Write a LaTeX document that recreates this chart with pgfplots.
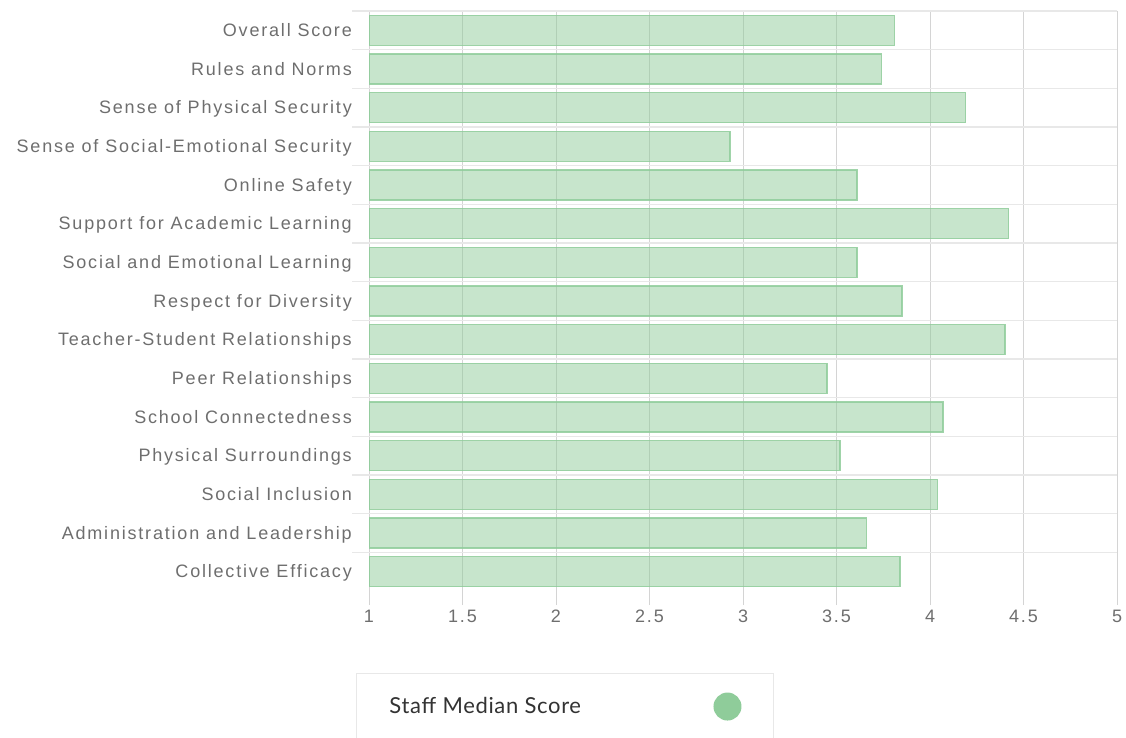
\documentclass[border=0pt]{standalone}
\usepackage{fontspec}
\setmainfont{Liberation Sans}[LetterSpace=10]
\newfontfamily\latofont{Lato}[LetterSpace=3]
\usepackage{pgfplots}
\pgfplotsset{compat=1.18}
\definecolor{lab}{RGB}{110,110,110}
\definecolor{gridv}{RGB}{212,212,212}
\definecolor{gridh}{RGB}{232,232,232}
\definecolor{dot}{RGB}{143,204,154}
\definecolor{legtext}{RGB}{51,51,51}
\pgfplotstableread{
y val
0 3.81
1 3.74
2 4.19
3 2.93
4 3.61
5 4.42
6 3.61
7 3.85
8 4.40
9 3.45
10 4.07
11 3.52
12 4.04
13 3.66
14 3.84
}\datatable
\begin{document}
\begin{tikzpicture}
\path[use as bounding box] (0pt,0pt) rectangle (1126pt,-737pt);
\begin{axis}[
  at={(369pt,-11pt)}, anchor=north west,
  scale only axis, width=748pt, height=580pt,
  xmin=1, xmax=5, ymin=-0.5, ymax=14.5, y dir=reverse,
  xbar, bar width=30pt,
  axis line style={draw=none},
  tick align=outside,
  xtick pos=left, ytick pos=left,
  xtick={1,1.5,2,2.5,3,3.5,4,4.5,5},
  xmajorgrids, major grid style={gridv, line width=1pt},
  major tick length=14pt,
  every major x tick/.style={gridv, line width=1pt},
  every major y tick/.style={draw=none},
  ytick={0,...,14},
  yticklabels={Overall Score,Rules and Norms,Sense of Physical Security,Sense of Social-Emotional Security,Online Safety,Support for Academic Learning,Social and Emotional Learning,Respect for Diversity,Teacher-Student Relationships,Peer Relationships,School Connectedness,Physical Surroundings,Social Inclusion,Administration and Leadership,Collective Efficacy},
  minor ytick={-0.5,0.5,1.5,2.5,3.5,4.5,5.5,6.5,7.5,8.5,9.5,10.5,11.5,12.5,13.5},
  yminorgrids, minor grid style={gridh, line width=1.5pt},
  minor tick length=17pt,
  every minor y tick/.style={gridh, line width=1.5pt},
  /pgf/number format/assume math mode=true,
  typeset ticklabels with strut,
  ticklabel style={font=\fontsize{18}{21}\selectfont, text=lab},
  yticklabel style={inner sep=0pt, anchor=east, xshift=-3pt, yshift=-2pt},
  xticklabel style={inner sep=0pt, yshift=-3pt},
  legend plot pos=right,
  legend style={at={(-0.0174,-0.1414)}, anchor=north west, draw=gridh, line width=1pt,
    inner sep=0pt, font=\latofont\fontsize{22}{26}\selectfont, text=legtext,
    nodes={inner sep=0pt}, column sep=0pt},
  legend image code/.code={
    \path[draw=none, fill=none] (0pt,-26pt) rectangle (73pt,40pt);
    \fill[dot, fill opacity=1, draw=none] (27pt,7pt) circle (14pt);
  },
]
\addplot[fill=dot, fill opacity=0.5, draw=dot, draw opacity=0.85, line width=1.5pt]
  table[x=val, y=y] {\datatable};
\addlegendentry{\makebox[344pt][l]{\rule[-26pt]{0pt}{66pt}\hspace{33pt}\raisebox{19pt}{Staff Median Score}}}
\end{axis}
\end{tikzpicture}
\end{document}
